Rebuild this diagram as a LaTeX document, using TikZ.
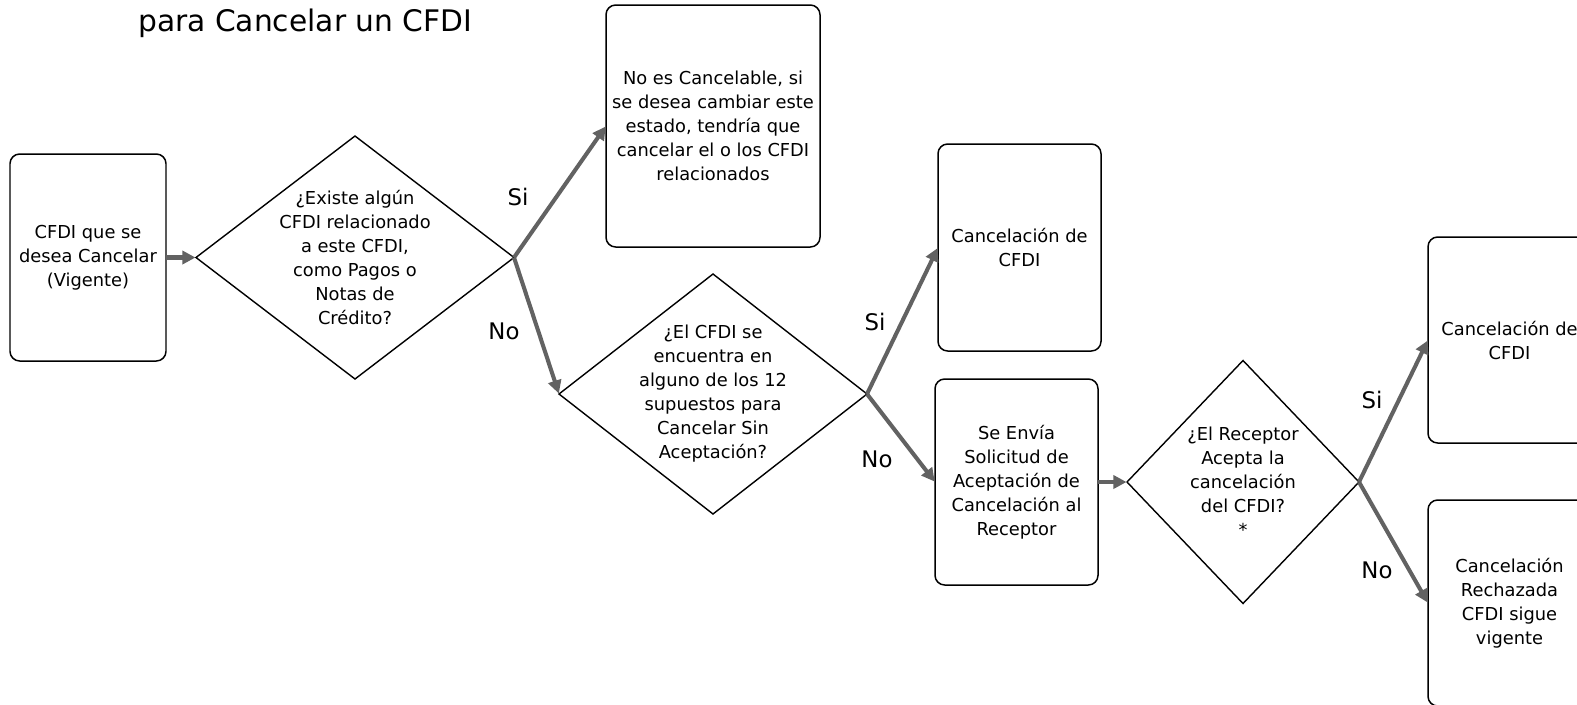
\documentclass[tikz,border=0pt]{standalone}
\usepackage{fontspec}
\setmainfont{DejaVu Sans}
\usetikzlibrary{shapes.geometric,arrows.meta}
\def\px{0.02cm}
\definecolor{arrgray}{HTML}{626262}
\tikzset{
  box/.style={draw=black, line width=0.85pt, rounded corners=5.5pt, inner sep=0pt, outer sep=0pt, align=center,
    font=\fontsize{10.15}{13.67}\selectfont},
  dia/.style={draw=black, line width=0.8pt, diamond, inner sep=0pt, outer sep=0pt},
  dtxt/.style={align=center, inner sep=0pt, font=\fontsize{10.15}{13.67}\selectfont},
  lbl/.style={font=\fontsize{13}{15}\selectfont, inner sep=0pt},
  arr/.style={draw=arrgray, line width=2.3pt, -{Triangle[length=7.5pt,width=7.5pt]}, shorten >=0.3pt}
}
\begin{document}
\begin{tikzpicture}[x=\px, y=-\px]
\useasboundingbox (0,0) rectangle (1577,704);
\clip (0,0) rectangle (1577,704);
\fill[white] (0,0) rectangle (1577,704);

\node[anchor=base west, inner sep=0pt, font=\fontsize{16.9}{20}\selectfont] (title) at (138,31) {para Cancelar un CFDI};

% boxes
\node[box, minimum width={156*\px}, minimum height={207*\px}] (b1) at (88,257.5) {CFDI que se\\desea Cancelar\\(Vigente)};
\node[box, minimum width={214*\px}, minimum height={242*\px}] (b2) at (713,126) {No es Cancelable, si\\se desea cambiar este\\estado, tendría que\\cancelar el o los CFDI\\relacionados};
\node[box, minimum width={163*\px}, minimum height={207*\px}] (b3) at (1019.5,247.5) {Cancelación de\\CFDI};
\node[box, minimum width={163*\px}, minimum height={206*\px}] (b4) at (1016.5,482) {Se Envía\\Solicitud de\\Aceptación de\\Cancelación al\\Receptor};
\node[box, minimum width={163*\px}, minimum height={206*\px}] (b5) at (1509.5,340) {Cancelación de\\CFDI};
\node[box, minimum width={163*\px}, minimum height={206*\px}] (b6) at (1509.5,603) {Cancelación\\Rechazada\\CFDI sigue\\vigente};

% diamonds
\node[dia, minimum width={318*\px}, minimum height={243*\px}] (d1) at (355,257.5) {};
\node[dtxt] (t1) at (d1) {¿Existe algún\\CFDI relacionado\\a este CFDI,\\como Pagos o\\Notas de\\Crédito?};
\node[dia, minimum width={308*\px}, minimum height={240*\px}] (d2) at (713,394) {};
\node[dtxt] (t2) at (d2) {¿El CFDI se\\encuentra en\\alguno de los 12\\supuestos para\\Cancelar Sin\\Aceptación?};
\node[dia, minimum width={232*\px}, minimum height={243*\px}] (d3) at (1243,482) {};
\node[dtxt] (t3) at (d3) {¿El Receptor\\Acepta la\\cancelación\\del CFDI?\\*};

% connectors
\draw[arr] (b1.east) -- (d1.west);
\draw[arr] (d1.east) -- (b2.west);
\draw[arr] (d1.east) -- (d2.west);
\draw[arr] (d2.east) -- (b3.west);
\draw[arr] (d2.east) -- (b4.west);
\draw[arr] (b4.east) -- (d3.west);
\draw[arr] (d3.east) -- (b5.west);
\draw[arr] (d3.east) -- (b6.west);

% labels
\node[lbl] (l1) at (518,197) {Si};
\node[lbl] (l2) at (504,331) {No};
\node[lbl] (l3) at (875,322) {Si};
\node[lbl] (l4) at (877,459) {No};
\node[lbl] (l5) at (1372,400) {Si};
\node[lbl] (l6) at (1377,570) {No};
\end{tikzpicture}
\end{document}
